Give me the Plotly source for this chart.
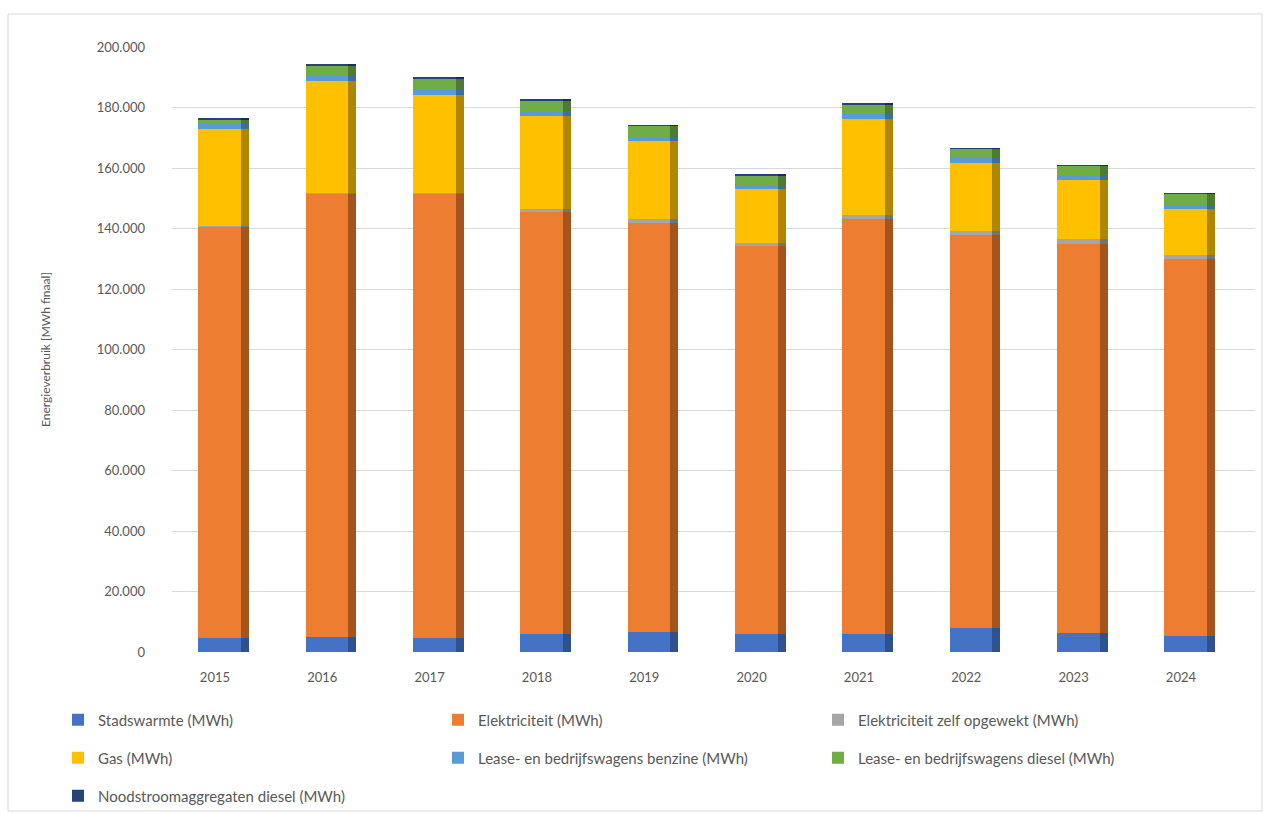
import numpy as np
import plotly.graph_objects as go

years = ["2015", "2016", "2017", "2018", "2019", "2020", "2021", "2022", "2023", "2024"]
stadswarmte = [4500, 5100, 4700, 5900, 6700, 5800, 6100, 7800, 6300, 5200]
elektriciteit = [136100, 146500, 146900, 139500, 135200, 128300, 137200, 130000, 128700, 124800]
elek_zelf = [200, 300, 300, 900, 1100, 1200, 1300, 1300, 1400, 1400]
gas = [32200, 36800, 32300, 30800, 25900, 17800, 31700, 22600, 19600, 14900]
benzine = [1600, 2000, 1900, 1700, 1500, 1100, 1400, 1700, 1700, 1600]
diesel = [1500, 3100, 3600, 3600, 3500, 3300, 3300, 3000, 3100, 3600]
noodstroom = [300, 300, 300, 200, 200, 200, 200, 150, 150, 150]

names = [
    "Stadswarmte (MWh)",
    "Elektriciteit (MWh)",
    "Elektriciteit zelf opgewekt (MWh)",
    "Gas (MWh)",
    "Lease- en bedrijfswagens benzine (MWh)",
    "Lease- en bedrijfswagens diesel (MWh)",
    "Noodstroomaggregaten diesel (MWh)",
]
series = [stadswarmte, elektriciteit, elek_zelf, gas, benzine, diesel, noodstroom]
front_colors = ["#4472C4", "#ED7D31", "#A5A5A5", "#FFC000", "#5B9BD5", "#70AD47", "#264478"]
side_colors = ["#2F528F", "#A5541E", "#737373", "#B08600", "#3F6E99", "#4E7A32", "#1A2F53"]

# legend grid positions (column, row) in the 3-column legend below the plot
legend_cols = [0, 1, 2, 0, 1, 2, 0]
legend_rows = [0, 0, 0, 1, 1, 1, 2]

# layout geometry (pixels)
W, H = 1269, 814
ml, mr, mt, mb = 172, 14, 47, 162
plot_w = W - ml - mr
plot_h = H - mt - mb

def px_to_paper_x(px):
    return (px - ml) / plot_w

def px_to_paper_y(py):
    return (H - mb - py) / plot_h

font_family = "Lato, 'Open Sans', sans-serif"
leg_x0, leg_dx = 58, 380
leg_y0, leg_dy = 720, 38

fig = go.Figure()
base = np.zeros(len(years))
legends = {}
for i, (name, vals, fc, sc) in enumerate(zip(names, series, front_colors, side_colors)):
    v = np.array(vals, dtype=float)
    lg = "legend" if i == 0 else f"legend{i + 1}"
    fig.add_trace(go.Bar(
        x=years, y=v, base=base.copy(), name=name,
        marker=dict(color=fc, line=dict(width=0)),
        width=0.398, offset=-0.156, legend=lg, showlegend=True,
    ))
    fig.add_trace(go.Bar(
        x=years, y=v, base=base.copy(), name=name, showlegend=False,
        marker=dict(color=sc, line=dict(width=0)),
        width=0.075, offset=0.242, hoverinfo="skip",
    ))
    base = base + v
    legends[lg] = dict(
        orientation="h",
        font=dict(family=font_family, size=15, color="#595959"),
        xanchor="left", yanchor="middle", bgcolor="rgba(0,0,0,0)",
        x=px_to_paper_x(leg_x0 + leg_dx * legend_cols[i]),
        y=px_to_paper_y(leg_y0 + leg_dy * legend_rows[i]),
    )

fig.update_layout(
    width=W, height=H,
    margin=dict(l=ml, r=mr, t=mt, b=mb, autoexpand=False),
    paper_bgcolor="white", plot_bgcolor="white",
    barmode="overlay", bargap=0,
    separators=",.",
    font=dict(family=font_family, color="#595959"),
    xaxis=dict(
        type="category", range=[-0.40, 9.69],
        showgrid=False, showline=False, zeroline=False,
        tickfont=dict(size=13, color="#595959"),
        ticklabelstandoff=16,
    ),
    yaxis=dict(
        range=[0, 200000], dtick=20000, tickformat=",d",
        showgrid=True, gridcolor="#D9D9D9", gridwidth=1,
        zeroline=False, showline=False,
        tickfont=dict(size=13, color="#595959"),
        ticklabelstandoff=26,
        title=dict(text="Energieverbruik [MWh finaal]", font=dict(size=12, color="#595959"), standoff=43),
    ),
    shapes=[dict(
        type="rect", xref="paper", yref="paper",
        x0=px_to_paper_x(8), x1=px_to_paper_x(1262),
        y0=px_to_paper_y(811), y1=px_to_paper_y(14),
        line=dict(color="#D9D9D9", width=1), fillcolor="rgba(0,0,0,0)", layer="below",
    )],
    showlegend=True,
    **legends,
)

fig.write_html("out.html")
